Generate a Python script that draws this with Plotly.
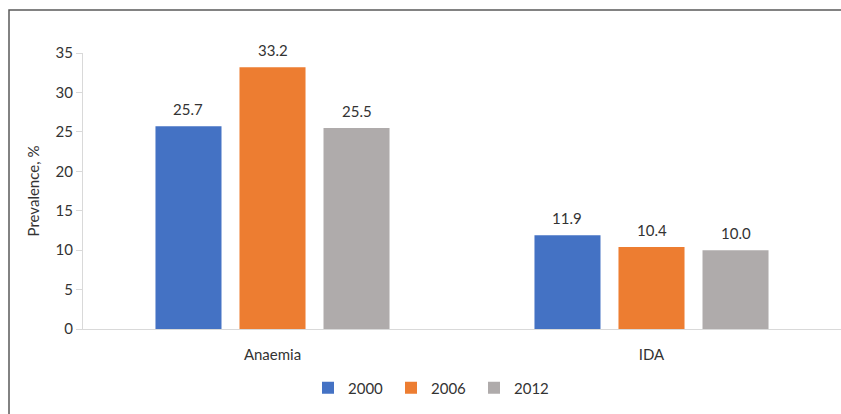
import plotly.graph_objects as go

# Prevalence data
categories = ["Anaemia", "IDA"]
years = ["2000", "2006", "2012"]
values_2000 = [25.7, 11.9]
values_2006 = [33.2, 10.4]
values_2012 = [25.5, 10.0]
series_values = [values_2000, values_2006, values_2012]
colors = ["#4472C4", "#ED7D31", "#AFABAB"]

W, H = 841, 414
M_L, M_R, M_T, M_B = 83, 0, 53, 85
BARGAP, BARGROUPGAP = 0.335, 0.214
FONT = "Lato"
TEXT = "#333333"
AXIS = "#D9D9D9"

fig = go.Figure()
for name, vals, col in zip(years, series_values, colors):
    fig.add_trace(go.Bar(
        x=categories, y=vals, name=name,
        marker=dict(color=col, line=dict(width=0)),
    ))

# Value labels above each bar, shifted to the bar's slot within its group
plot_w = W - M_L - M_R
band_px = plot_w / len(categories)
slot_px = band_px * (1 - BARGAP) / len(years)
annotations = []
for i, vals in enumerate(series_values):
    shift = (i - (len(years) - 1) / 2) * slot_px
    for cat, v in zip(categories, vals):
        annotations.append(dict(
            x=cat, y=v, xref="x", yref="y", text=f"{v:.1f}",
            showarrow=False, xshift=shift, yshift=17, yanchor="middle",
            font=dict(family=FONT, size=15, color=TEXT),
        ))

# Outer chart frame
plot_h = H - M_T - M_B
frame_left = (9 - M_L) / plot_w
frame_top = 1 + (M_T - 10) / plot_h

fig.update_layout(
    width=W, height=H,
    margin=dict(l=M_L, r=M_R, t=M_T, b=M_B),
    paper_bgcolor="white", plot_bgcolor="white",
    barmode="group", bargap=BARGAP, bargroupgap=BARGROUPGAP,
    font=dict(family=FONT, size=15, color=TEXT),
    showlegend=True,
    legend=dict(
        orientation="h", xref="container", yref="container",
        x=308 / W, xanchor="left", y=1 - 388 / H, yanchor="middle",
        font=dict(family=FONT, size=15, color=TEXT),
        itemwidth=30, entrywidth=38, traceorder="normal",
    ),
    annotations=annotations,
    shapes=[dict(
        type="rect", xref="paper", yref="paper",
        x0=frame_left, x1=1.2, y0=-0.6, y1=frame_top,
        line=dict(color="#595959", width=1.5), fillcolor="rgba(0,0,0,0)",
        layer="above",
    )],
)
fig.update_xaxes(
    showline=True, linecolor=AXIS, linewidth=1, ticks="",
    showgrid=False, ticklabelstandoff=12,
    tickfont=dict(family=FONT, size=15, color=TEXT),
)
fig.update_yaxes(
    range=[0, 35], dtick=5, showgrid=False, zeroline=False,
    showline=True, linecolor=AXIS, linewidth=1,
    ticks="outside", ticklen=6, tickcolor=AXIS,
    tickfont=dict(family=FONT, size=15, color=TEXT),
    title=dict(text="Prevalence, %", standoff=12,
               font=dict(family=FONT, size=15, color=TEXT)),
)

fig.write_html("out.html")
